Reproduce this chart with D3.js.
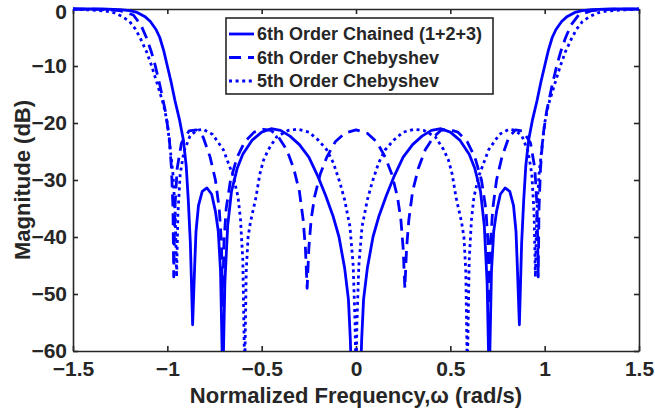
<!DOCTYPE html>
<html>
<head>
<meta charset="utf-8">
<script src="https://cdnjs.cloudflare.com/ajax/libs/d3/7.8.5/d3.min.js"></script>
<style>
    body { margin: 0; background: #fff; }
    svg { display: block; font-family: Arial, "Liberation Sans", Helvetica, sans-serif; }
    .axis path, .axis line { stroke: #262626; stroke-width: 1.6; }
    .axis text { fill: #262626; font-weight: bold; font-size: 21px; }
</style>
</head>
<body>
<svg id="chart" width="655" height="414"></svg>
<script>
// Tick values
let xTicks = [-1.5, -1, -0.5, 0, 0.5, 1, 1.5];
let yTicks = [0, -10, -20, -30, -40, -50, -60];

// Series names, in legend order
let seriesNames = ["6th Order Chained (1+2+3)", "6th Order Chebyshev", "5th Order Chebyshev"];

// 6th order chained response, [frequency, dB]
let chained = [
    [-1.5, 0], [-1.35, 0], [-1.25, -0.1], [-1.2, -0.3], [-1.16, -0.6], [-1.12, -1.3], [-1.09, -2.2],
    [-1.06, -3.6], [-1.04, -5], [-1.02, -7.2], [-1.0, -10], [-0.98, -12.8], [-0.96, -16], [-0.935, -19.5],
    [-0.915, -23], [-0.9, -27.5], [-0.889, -33.5], [-0.878, -41], [-0.866, -55.4], [-0.855, -45],
    [-0.848, -39], [-0.835, -34.5], [-0.815, -32], [-0.79, -31.4], [-0.765, -32.5], [-0.745, -35.5],
    [-0.73, -39], [-0.718, -46], [-0.706, -66], [-0.695, -48], [-0.68, -38], [-0.66, -32], [-0.63, -28],
    [-0.6, -25.5], [-0.55, -23], [-0.5, -21.6], [-0.45, -21], [-0.4, -21.3], [-0.35, -22.3], [-0.3, -23.8],
    [-0.25, -26], [-0.2, -29.5], [-0.16, -32.8], [-0.12, -36.5], [-0.09, -40], [-0.06, -45.5], [-0.04, -51],
    [-0.03, -58], [-0.02, -70], [0, -66],
    [0.02, -70], [0.03, -58], [0.04, -51], [0.06, -45.5], [0.09, -40], [0.12, -36.5], [0.16, -32.8],
    [0.2, -29.5], [0.25, -26], [0.3, -23.8], [0.35, -22.3], [0.4, -21.3], [0.45, -21], [0.5, -21.6],
    [0.55, -23], [0.6, -25.5], [0.63, -28], [0.66, -32], [0.68, -38], [0.695, -48], [0.706, -66],
    [0.718, -46], [0.73, -39], [0.745, -35.5], [0.765, -32.5], [0.79, -31.4], [0.815, -32], [0.835, -34.5],
    [0.848, -39], [0.855, -45], [0.866, -55.4], [0.878, -41], [0.889, -33.5], [0.9, -27.5], [0.915, -23],
    [0.935, -19.5], [0.96, -16], [0.98, -12.8], [1.0, -10], [1.02, -7.2], [1.04, -5], [1.06, -3.6],
    [1.09, -2.2], [1.12, -1.3], [1.16, -0.6], [1.2, -0.3], [1.25, -0.1], [1.35, 0], [1.5, 0]
];

// 6th order Chebyshev response, [frequency, dB]
let cheby6 = [
    [-1.5, 0], [-1.35, -0.05], [-1.25, -0.3], [-1.18, -1.05], [-1.14, -2.8], [-1.11, -5.1], [-1.085, -7.5],
    [-1.065, -9.8], [-1.04, -13.3], [-1.01, -18], [-0.99, -22.5], [-0.978, -28], [-0.97, -35], [-0.966, -47],
    [-0.96, -35], [-0.948, -28], [-0.925, -23.5], [-0.885, -21.4], [-0.845, -21.2], [-0.81, -22.5],
    [-0.774, -25.9], [-0.745, -30], [-0.725, -35], [-0.713, -41], [-0.707, -52], [-0.7, -41], [-0.688, -35],
    [-0.665, -30], [-0.63, -26], [-0.59, -23.3], [-0.54, -21.6], [-0.49, -21.1], [-0.45, -21.3], [-0.41, -22.5],
    [-0.367, -24.7], [-0.33, -28], [-0.3, -32], [-0.28, -37], [-0.268, -42], [-0.259, -49], [-0.25, -42],
    [-0.238, -37], [-0.22, -33], [-0.19, -29], [-0.155, -26], [-0.11, -23.3], [-0.06, -21.8], [0, -21.2],
    [0.06, -21.8], [0.11, -23.3], [0.155, -26], [0.19, -29], [0.22, -33], [0.238, -37], [0.25, -42],
    [0.259, -49], [0.268, -42], [0.28, -37], [0.3, -32], [0.33, -28], [0.367, -24.7], [0.41, -22.5],
    [0.45, -21.3], [0.49, -21.1], [0.54, -21.6], [0.59, -23.3], [0.63, -26], [0.665, -30], [0.688, -35],
    [0.7, -41], [0.707, -52], [0.713, -41], [0.725, -35], [0.745, -30], [0.774, -25.9], [0.81, -22.5],
    [0.845, -21.2], [0.885, -21.4], [0.925, -23.5], [0.948, -28], [0.96, -35], [0.966, -47], [0.97, -35],
    [0.978, -28], [0.99, -22.5], [1.01, -18], [1.04, -13.3], [1.065, -9.8], [1.085, -7.5], [1.11, -5.1],
    [1.14, -2.8], [1.18, -1.05], [1.25, -0.3], [1.35, -0.05], [1.5, 0]
];

// 5th order Chebyshev response, [frequency, dB]
let cheby5 = [
    [-1.5, 0], [-1.4, -0.2], [-1.32, -0.4], [-1.28, -0.7], [-1.24, -1.3], [-1.2, -2.2], [-1.17, -3.5],
    [-1.145, -5], [-1.11, -7.5], [-1.083, -10], [-1.05, -13.5], [-1.02, -16.8], [-1.0, -20], [-0.985, -24.5],
    [-0.97, -29], [-0.958, -36], [-0.951, -47], [-0.944, -36], [-0.932, -29], [-0.912, -25], [-0.88, -22.3],
    [-0.845, -21.3], [-0.81, -21.1], [-0.76, -22], [-0.703, -24.7], [-0.65, -29.4], [-0.625, -33],
    [-0.612, -37], [-0.6, -44], [-0.59, -64], [-0.582, -46], [-0.572, -40], [-0.56, -37.5], [-0.53, -33],
    [-0.51, -29], [-0.49, -26.5], [-0.465, -24.7], [-0.42, -22.4], [-0.36, -21.3], [-0.309, -21.1],
    [-0.25, -21.6], [-0.2, -23], [-0.155, -24.7], [-0.12, -27], [-0.085, -30.5], [-0.06, -33.5],
    [-0.032, -38.2], [-0.015, -45], [-0.005, -55], [0, -65],
    [0.005, -55], [0.015, -45], [0.032, -38.2], [0.06, -33.5], [0.085, -30.5], [0.12, -27], [0.155, -24.7],
    [0.2, -23], [0.25, -21.6], [0.309, -21.1], [0.36, -21.3], [0.42, -22.4], [0.465, -24.7], [0.49, -26.5],
    [0.51, -29], [0.53, -33], [0.56, -37.5], [0.572, -40], [0.582, -46], [0.59, -64], [0.6, -44],
    [0.612, -37], [0.625, -33], [0.65, -29.4], [0.703, -24.7], [0.76, -22], [0.81, -21.1], [0.845, -21.3],
    [0.88, -22.3], [0.912, -25], [0.932, -29], [0.944, -36], [0.951, -47], [0.958, -36], [0.97, -29],
    [0.985, -24.5], [1.0, -20], [1.02, -16.8], [1.05, -13.5], [1.083, -10], [1.11, -7.5], [1.145, -5],
    [1.17, -3.5], [1.2, -2.2], [1.24, -1.3], [1.28, -0.7], [1.32, -0.4], [1.4, -0.2], [1.5, 0]
];

let seriesData = [chained, cheby6, cheby5];
let dashes = [null, "12,7", "3,3.6"];
let lineColor = "#0000ff";

let svg = d3.select("#chart");
svg.append("rect").attr("width", 655).attr("height", 414).attr("fill", "#fff");

let margin = {top: 9, right: 16, bottom: 63, left: 73};
let width = 655 - margin.left - margin.right;
let height = 414 - margin.top - margin.bottom;

let g = svg.append("g").attr("transform", "translate(" + margin.left + "," + margin.top + ")");

let x = d3.scaleLinear().domain([-1.5, 1.5]).range([0, width]);
let y = d3.scaleLinear().domain([-60, 0]).range([height, 0]);

// Clip the curves to the plot box (a little room on top for the 0 dB lines)
g.append("defs").append("clipPath")
    .attr("id", "clip")
    .append("rect")
    .attr("x", 0)
    .attr("y", -3)
    .attr("width", width)
    .attr("height", height + 3);

// Axes, ticks pointing inward on all four sides
let fmt = d => d3.format("")(d);
g.append("g")
    .attr("class", "axis")
    .attr("transform", "translate(0," + height + ")")
    .call(d3.axisBottom(x).tickValues(xTicks).tickFormat(fmt).tickSizeInner(-5).tickSizeOuter(0).tickPadding(10));
g.append("g")
    .attr("class", "axis")
    .call(d3.axisTop(x).tickValues(xTicks).tickFormat("").tickSizeInner(-5).tickSizeOuter(0));
let yAxisG = g.append("g")
    .attr("class", "axis")
    .call(d3.axisLeft(y).tickValues(yTicks).tickFormat(fmt).tickSizeInner(-5).tickSizeOuter(0).tickPadding(6));
// keep the top "0" label inside the page
yAxisG.selectAll(".tick text").filter(d => d === 0).attr("dy", "0.45em");
g.append("g")
    .attr("class", "axis")
    .attr("transform", "translate(" + width + ",0)")
    .call(d3.axisRight(y).tickValues(yTicks).tickFormat("").tickSizeInner(-5).tickSizeOuter(0));

// Curves
let line = d3.line()
    .x(d => x(d[0]))
    .y(d => y(d[1]));

let curves = g.append("g").attr("clip-path", "url(#clip)");
seriesData.forEach(function (data, i) {
    curves.append("path")
        .datum(data)
        .attr("fill", "none")
        .attr("stroke", lineColor)
        .attr("stroke-width", 2.8)
        .attr("stroke-linejoin", "round")
        .attr("stroke-dasharray", dashes[i])
        .attr("d", line);
});

// Axis titles
svg.append("text")
    .attr("x", margin.left + width / 2)
    .attr("y", 403)
    .attr("text-anchor", "middle")
    .attr("font-size", 22)
    .attr("font-weight", "bold")
    .attr("fill", "#262626")
    .text("Normalized Frequency,\u03c9 (rad/s)");
svg.append("text")
    .attr("transform", "translate(30," + (margin.top + height / 2) + ") rotate(-90)")
    .attr("text-anchor", "middle")
    .attr("font-size", 22)
    .attr("font-weight", "bold")
    .attr("fill", "#262626")
    .text("Magnitude (dB)");

// Legend
let legend = svg.append("g").attr("transform", "translate(226,18)");
legend.append("rect")
    .attr("width", 267)
    .attr("height", 76)
    .attr("fill", "#fff")
    .attr("stroke", "#262626")
    .attr("stroke-width", 1.6);
seriesNames.forEach(function (name, i) {
    let row = legend.append("g").attr("transform", "translate(0," + (16 + i * 23.5) + ")");
    row.append("line")
        .attr("x1", 3).attr("x2", 28)
        .attr("stroke", lineColor)
        .attr("stroke-width", 2.8)
        .attr("stroke-dasharray", dashes[i]);
    row.append("text")
        .attr("x", 31)
        .attr("dy", "0.35em")
        .attr("font-size", 18)
        .attr("font-weight", "bold")
        .attr("fill", "#262626")
        .text(name);
});
</script>
</body>
</html>
